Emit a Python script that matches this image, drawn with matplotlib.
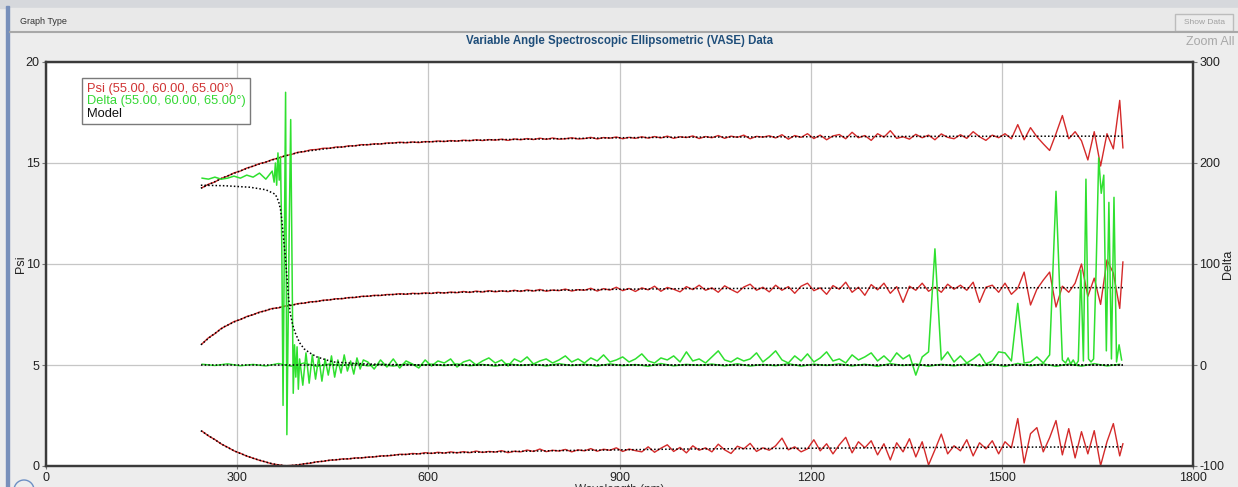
import numpy as np
import matplotlib.pyplot as plt
from matplotlib.lines import Line2D
from matplotlib.patches import Rectangle, Circle

plt.rcParams['font.family'] = ['Liberation Sans', 'DejaVu Sans']
plt.rcParams['axes.unicode_minus'] = False

psi_wl = np.append(np.arange(245, 1686, 10), 1690)

psi_top = [
    13.78, 13.95, 14.06, 14.24, 14.35, 14.51, 14.60, 14.75, 14.84, 14.97,
    15.04, 15.17, 15.24, 15.36, 15.42, 15.53, 15.56, 15.65, 15.67, 15.73,
    15.73, 15.79, 15.79, 15.85, 15.85, 15.91, 15.90, 15.95, 15.94, 15.99,
    15.99, 16.03, 16.00, 16.04, 16.01, 16.06, 16.05, 16.09, 16.06, 16.11,
    16.08, 16.13, 16.10, 16.15, 16.11, 16.16, 16.13, 16.18, 16.12, 16.19,
    16.15, 16.21, 16.16, 16.23, 16.17, 16.24, 16.18, 16.20, 16.25, 16.19,
    16.21, 16.27, 16.19, 16.26, 16.23, 16.29, 16.20, 16.27, 16.22, 16.30,
    16.23, 16.31, 16.24, 16.33, 16.22, 16.30, 16.26, 16.34, 16.21, 16.31,
    16.25, 16.36, 16.22, 16.33, 16.27, 16.38, 16.20, 16.32, 16.28, 16.35,
    16.24, 16.40, 16.18, 16.36, 16.27, 16.45, 16.21, 16.38, 16.15, 16.34,
    16.41, 16.20, 16.52, 16.25, 16.36, 16.12, 16.45, 16.28, 16.60, 16.22,
    16.30, 16.18, 16.42, 16.25, 16.38, 16.15, 16.44, 16.27, 16.20, 16.40,
    16.22, 16.55, 16.30, 16.12, 16.38, 16.25, 16.45, 16.20, 16.90, 16.15,
    16.75, 16.30, 15.95, 15.62, 16.45, 17.35, 16.20, 16.55, 16.10, 15.15,
    16.55, 14.85, 16.45, 15.70, 18.10, 15.75,
]

psi_mid = [
    6.05, 6.35, 6.55, 6.81, 6.97, 7.15, 7.25, 7.40, 7.49, 7.62,
    7.69, 7.80, 7.83, 7.92, 7.95, 8.04, 8.06, 8.13, 8.14, 8.21,
    8.22, 8.28, 8.28, 8.34, 8.34, 8.40, 8.40, 8.45, 8.44, 8.49,
    8.49, 8.53, 8.50, 8.55, 8.53, 8.57, 8.54, 8.60, 8.56, 8.61,
    8.58, 8.64, 8.59, 8.66, 8.61, 8.68, 8.62, 8.67, 8.63, 8.70,
    8.64, 8.72, 8.66, 8.74, 8.65, 8.71, 8.68, 8.76, 8.66, 8.73,
    8.70, 8.80, 8.66, 8.78, 8.71, 8.85, 8.68, 8.79, 8.64, 8.82,
    8.72, 8.90, 8.65, 8.84, 8.75, 8.62, 8.88, 8.73, 8.95, 8.70,
    8.82, 8.60, 8.92, 8.74, 8.58, 8.86, 9.00, 8.70, 8.85, 8.62,
    8.95, 8.70, 8.88, 8.55, 8.90, 9.05, 8.68, 8.82, 8.50, 8.93,
    8.75, 9.10, 8.60, 8.85, 8.45, 8.98, 8.72, 9.05, 8.55, 8.88,
    8.10, 8.90, 8.70, 9.05, 8.65, 8.85, 8.60, 9.00, 8.75, 8.95,
    8.70, 9.10, 8.10, 8.85, 8.95, 8.60, 9.05, 8.50, 8.80, 9.60,
    7.97, 8.75, 9.20, 9.60, 7.87, 8.90, 8.60, 9.05, 10.00, 8.40,
    9.30, 8.00, 10.20, 9.55, 7.80, 10.10,
]

psi_bot = [
    1.72, 1.49, 1.31, 1.09, 0.93, 0.75, 0.63, 0.49, 0.39, 0.28,
    0.20, 0.10, 0.06, 0.01, 0.03, 0.05, 0.11, 0.14, 0.21, 0.23,
    0.29, 0.30, 0.35, 0.35, 0.40, 0.40, 0.44, 0.45, 0.50, 0.50,
    0.53, 0.58, 0.57, 0.62, 0.60, 0.66, 0.62, 0.68, 0.64, 0.70,
    0.65, 0.71, 0.66, 0.74, 0.67, 0.72, 0.69, 0.76, 0.66, 0.73,
    0.70, 0.79, 0.72, 0.84, 0.71, 0.78, 0.74, 0.82, 0.70, 0.80,
    0.75, 0.86, 0.73, 0.83, 0.78, 0.90, 0.72, 0.84, 0.76, 0.70,
    0.95, 0.68, 0.88, 1.05, 0.72, 0.92, 0.65, 1.00, 0.78, 0.90,
    0.70, 1.08, 0.80, 0.62, 0.98, 0.85, 1.12, 0.72, 0.90, 0.78,
    1.00, 1.38, 0.80, 0.95, 0.70, 0.85, 1.30, 0.75, 1.10, 0.60,
    1.05, 1.42, 0.65, 1.20, 0.90, 1.25, 0.55, 1.10, 0.30, 1.15,
    0.70, 1.35, 0.45, 1.20, 0.05, 0.80, 1.58, 0.60, 1.00, 0.75,
    1.30, 0.50, 1.15, 0.85, 1.25, 0.60, 1.20, 0.90, 2.35, 0.15,
    1.60, 1.90, 0.70, 1.40, 2.25, 0.55, 1.85, 0.40, 1.70, 0.60,
    1.75, 0.02, 1.20, 2.10, 0.50, 1.10,
]

delta_wl = np.concatenate([
    np.arange(245, 356, 10), np.arange(358, 399, 2), np.arange(403, 499, 5),
    np.arange(505, 1596, 10), np.arange(1600, 1689, 4),
])

delta_a = [
    185, 184, 186, 184, 185, 187, 185, 188, 186, 190, 184, 192,
    181, 200, 178, 210, 183, 206, 120, -40, 115, 270, -69, 40, 150, 243, 110,
    -28, 20, -12, 18, -24, 6,
    -20, 12, -18, 10, -14, 8, -16, 6, -10, 9, -12, 5, -8, 10, -6, 4, -9, 7, -4, 5,
    3, -4, 5, -2, 6, -3, 4, 1, -3, 5,
    -1, 4, 2, 6, -2, 3, 5, 0, 4, 7,
    2, 5, -1, 6, 3, 8, 1, 4, 6, 2,
    5, 9, 3, 6, 2, 7, 4, 10, 3, 5,
    8, 3, 6, 11, 4, 2, 7, 5, 9, 3,
    13, 4, 6, 2, 8, 14, 5, 3, 7, 4,
    6, 12, 3, 8, 14, 5, 2, 9, 4, 11,
    3, 7, 13, 4, 6, 2, 10, 5, 8, 12,
    4, 9, 3, 12, 6, 10, -10, 8, 13, 115,
    5, 13, 3, 9, 2, 6, 11, 1, 4, 13,
    12, 4, 61, 2, 3, 8, 2, 10, 172, 5,
    2, 7, 1, 5, 0, 4, 94, 4, 184, 6,
    3, 6, 96, 205, 170, 188, 14, 161, 6, 166,
    3, 20, 5,
]

delta_b_wl = np.arange(245, 1686, 20)
delta_b = [
    0.8, -0.5, 1.2, -0.8, 0.6, -1.0, 1.5, -1.2, 2.0, -1.5,
    1.0, -0.6, 1.4, -0.9, 0.7, -1.1, 1.2, -0.4, 0.9, -0.7,
    1.1, -0.8, 0.6, -1.2, 1.3, -0.5, 0.8, -1.0, 1.4, -0.6,
    0.9, -1.1, 1.2, -0.7, 0.5, -1.3, 1.5, -0.9, 0.7, -0.4,
    1.0, -0.9, 1.3, -1.1, 0.6, -0.8, 1.4, -1.2, 0.9, -0.5,
    1.2, -1.0, 0.8, -1.4, 1.5, -0.6, 1.1, -1.3, 0.7, -0.9,
    1.3, -1.1, 0.9, -1.5, 1.6, -0.8, 1.2, -1.4, 1.0, -1.2,
    1.4, -1.0, 0.8,
]

# ---- model curves ----
psi_mod_wl = [243, 260, 280, 300, 325, 350, 375, 400, 450, 500, 550, 600,
              700, 800, 900, 1000, 1200, 1400, 1690]
top_mod = [13.75, 14.0, 14.3, 14.55, 14.85, 15.1, 15.35, 15.55, 15.75, 15.9,
           16.0, 16.05, 16.15, 16.2, 16.25, 16.28, 16.3, 16.32, 16.33]
mid_mod = [6.0, 6.45, 6.9, 7.2, 7.5, 7.75, 7.9, 8.05, 8.25, 8.4,
           8.5, 8.55, 8.65, 8.7, 8.75, 8.78, 8.8, 8.82, 8.83]
bot_mod_wl = [243, 260, 280, 300, 325, 350, 365, 380, 400, 425, 450, 500,
              550, 600, 700, 800, 900, 1000, 1200, 1400, 1690]
bot_mod = [1.75, 1.4, 1.0, 0.68, 0.38, 0.15, 0.05, 0.0, 0.08, 0.2, 0.3, 0.42,
           0.55, 0.63, 0.7, 0.76, 0.8, 0.84, 0.88, 0.92, 0.95]
dmod_wl = [243, 280, 320, 345, 360, 365, 368, 370, 372, 375, 378, 380, 383,
           387, 391, 398, 405, 414, 425, 440, 451, 475, 504, 550, 600, 1690]
dmod = [178, 177.5, 176, 173.5, 169, 162, 154, 144, 130, 111, 88, 71, 52,
        40, 32, 22, 16, 12, 8, 5, 3, 2, 1, 0.3, 0, 0]
dflat_wl = [243, 1690]
dflat = [0, 0]

red = '#d42a2a'
green = '#2fe02f'
W, H = 1238, 487

fig = plt.figure(figsize=(W / 100, H / 100), dpi=100, facecolor='#ededed')

# window chrome
fig.add_artist(Rectangle((0, 1 - 8 / H), 1, 8 / H, transform=fig.transFigure,
                         color='#d6d8dc', zorder=0))
fig.add_artist(Rectangle((10 / W, 1 - 32 / H), 1, 24 / H, transform=fig.transFigure,
                         color='#e9e9e9', zorder=0))
fig.add_artist(Line2D([10 / W, 1], [1 - 32 / H] * 2, transform=fig.transFigure,
                      color='#a8a8a8', lw=1.5))
fig.add_artist(Rectangle((6 / W, 0), 3 / W, 1 - 6 / H, transform=fig.transFigure,
                         color='#7890bb', zorder=1))
fig.add_artist(Rectangle((1175 / W, 1 - 31 / H), 58 / W, 17 / H, transform=fig.transFigure,
                         fc='#ececec', ec='#bcbcbc', lw=1))
fig.add_artist(Circle((0.24, -0.03), 0.1, transform=fig.dpi_scale_trans,
                      fc='none', ec='#6d8fc4', lw=1))
fig.text(20 / W, 1 - 22 / H, 'Graph Type', fontsize=6.5, color='#333333', va='center')
fig.text(1204 / W, 1 - 22.5 / H, 'Show Data', fontsize=6, color='#a0a0a0',
         ha='center', va='center')
fig.text(1234 / W, 1 - 42 / H, 'Zoom All', fontsize=9, color='#a8a8a8',
         ha='right', va='center')
fig.text(619 / W, 1 - 41 / H, 'Variable Angle Spectroscopic Ellipsometric (VASE) Data',
         fontsize=8.3, weight='bold', color='#1f4e7a', ha='center', va='center')
# axis title sits mostly below the window edge, as in the screenshot
fig.text(619.5 / W, 3.5 / H, 'Wavelength (nm)', fontsize=8.5, color='#333333',
         ha='center', va='top')

ax = fig.add_axes([46 / W, 21 / H, 1147 / W, 404 / H])
ax.set_facecolor('white')
ax2 = ax.twinx()

ax.set_xlim(0, 1800)
ax.set_ylim(0, 20)
ax2.set_ylim(-100, 300)
ax.set_xticks(range(0, 1801, 300))
ax.set_yticks([0, 5, 10, 15, 20])
ax2.set_yticks([-100, 0, 100, 200, 300])
ax.grid(True, color='#c6c6c6', lw=0.9)
ax.set_axisbelow(True)

for a in (ax, ax2):
    for s in a.spines.values():
        s.set_color('#3a3a3a')
        s.set_linewidth(1.6)
    a.tick_params(axis='y', labelsize=9, length=3, width=0.8, color='#777777',
                  pad=1.5, labelcolor='#222222')
ax.tick_params(axis='x', labelsize=9, length=2, color='#777777', pad=2,
               labelcolor='#222222')

ax.set_ylabel('Psi', fontsize=9, color='#222222')
ax.yaxis.set_label_coords((27 - 46) / 1147, 0.5)
ax2.set_ylabel('Delta', fontsize=9, color='#222222')
ax2.yaxis.set_label_coords((1222 - 46) / 1147, 0.5)

# Psi data + model
for y in (psi_top, psi_mid, psi_bot):
    ax.plot(psi_wl, y, color=red, lw=1.0, zorder=2)
dot = (0, (1, 1.4))
ax.plot(psi_mod_wl, top_mod, color='black', lw=1.1, ls=dot, zorder=3)
ax.plot(psi_mod_wl, mid_mod, color='black', lw=1.1, ls=dot, zorder=3)
ax.plot(bot_mod_wl, bot_mod, color='black', lw=1.1, ls=dot, zorder=3)

# Delta data + model
ax2.plot(delta_b_wl, delta_b, color=green, lw=1.0, zorder=2)
ax2.plot(delta_wl, delta_a, color=green, lw=1.1, zorder=2)
ax2.plot(dflat_wl, dflat, color='black', lw=1.1, ls=dot, zorder=3)
ax2.plot(dmod_wl, dmod, color='black', lw=1.1, ls=dot, zorder=3)

handles = [Line2D([], [], color=c) for c in (red, green, 'black')]
labels = ['Psi (55.00, 60.00, 65.00°)', 'Delta (55.00, 60.00, 65.00°)', 'Model']
leg = ax2.legend(handles, labels, loc='upper left', bbox_to_anchor=(82 / W, 1 - 78 / H),
                 bbox_transform=fig.transFigure, handlelength=0, handletextpad=0,
                 labelcolor=['#d03434', '#35d835', '#111111'], fontsize=9.3,
                 fancybox=False, edgecolor='#7a7a7a', framealpha=1,
                 borderpad=0.35, labelspacing=0.05, borderaxespad=0)
leg.get_frame().set_linewidth(1.0)
leg.set_zorder(10)

fig.savefig('out.png', dpi=100, facecolor=fig.get_facecolor())
